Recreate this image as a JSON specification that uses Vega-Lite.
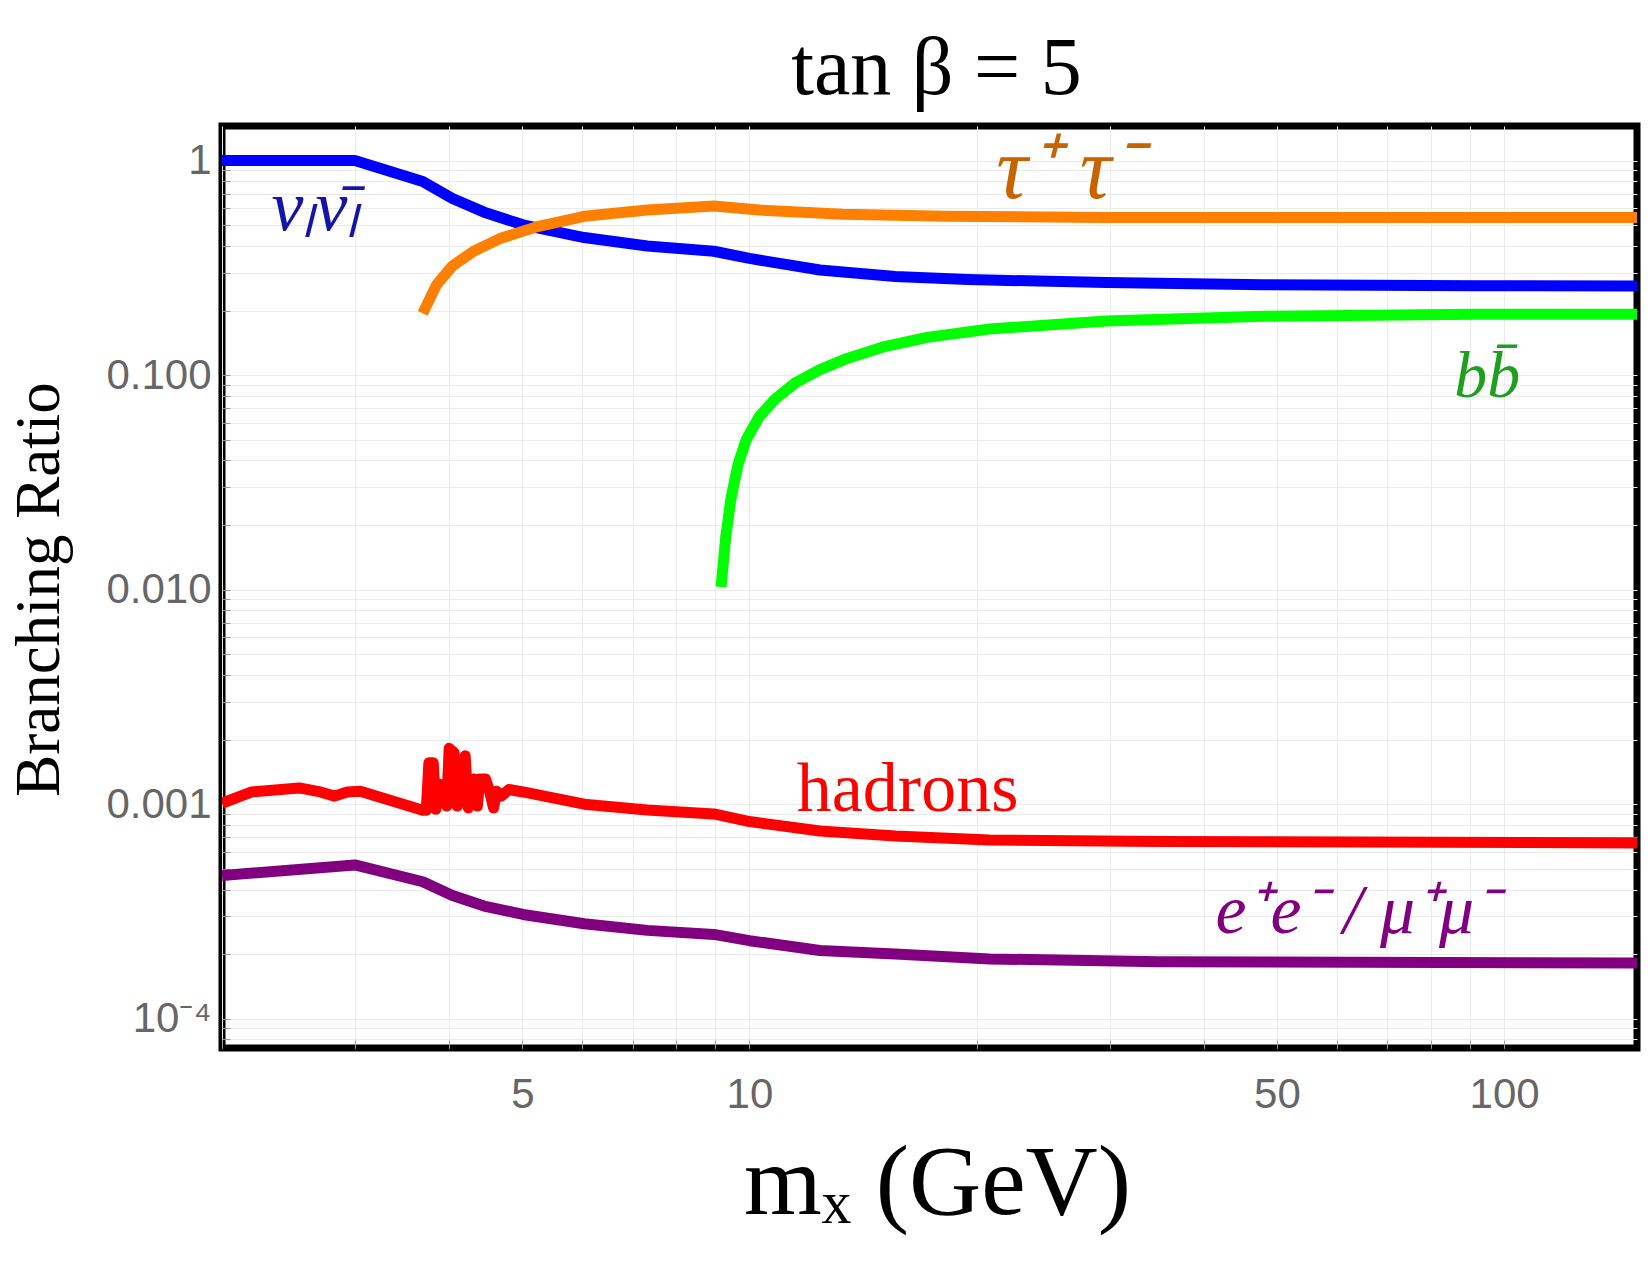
{
  "$schema": "https://vega.github.io/schema/vega-lite/v6.json",
  "width": 1415,
  "height": 922,
  "autosize": {"type": "none"},
  "padding": {"left": 222, "top": 126, "right": 13, "bottom": 227},
  "background": "white",
  "title": {"text": "tan β = 5", "font": "Liberation Serif", "fontSize": 82, "fontWeight": "normal", "color": "black", "baseline": "alphabetic", "frame": "group", "anchor": "middle", "offset": 28, "dx": 7, "dy": 78},
  "config": {"view": {"stroke": "black", "strokeWidth": 7}},
  "datasets": {
    "curves": [
      {"channel": "nu", "m": 2.0, "br": 1.0}, {"channel": "nu", "m": 3.0, "br": 1.0}, {"channel": "nu", "m": 3.69, "br": 0.80}, {"channel": "nu", "m": 4.04, "br": 0.666}, {"channel": "nu", "m": 4.45, "br": 0.575}, {"channel": "nu", "m": 5.01, "br": 0.502}, {"channel": "nu", "m": 6.04, "br": 0.438}, {"channel": "nu", "m": 7.32, "br": 0.40}, {"channel": "nu", "m": 8.97, "br": 0.378}, {"channel": "nu", "m": 10, "br": 0.35}, {"channel": "nu", "m": 12.4, "br": 0.309}, {"channel": "nu", "m": 15.6, "br": 0.288}, {"channel": "nu", "m": 19.5, "br": 0.279}, {"channel": "nu", "m": 29.7, "br": 0.27}, {"channel": "nu", "m": 48, "br": 0.264}, {"channel": "nu", "m": 91.5, "br": 0.261}, {"channel": "nu", "m": 150, "br": 0.26},
      {"channel": "tau", "m": 3.69, "br": 0.194}, {"channel": "tau", "m": 3.85, "br": 0.264}, {"channel": "tau", "m": 4.04, "br": 0.323}, {"channel": "tau", "m": 4.31, "br": 0.378}, {"channel": "tau", "m": 4.67, "br": 0.433}, {"channel": "tau", "m": 5.22, "br": 0.491}, {"channel": "tau", "m": 6.04, "br": 0.55}, {"channel": "tau", "m": 7.32, "br": 0.588}, {"channel": "tau", "m": 8.97, "br": 0.615}, {"channel": "tau", "m": 10.3, "br": 0.588}, {"channel": "tau", "m": 13.3, "br": 0.562}, {"channel": "tau", "m": 18.3, "br": 0.55}, {"channel": "tau", "m": 29.7, "br": 0.543}, {"channel": "tau", "m": 150, "br": 0.543},
      {"channel": "bb", "m": 9.17, "br": 0.0103}, {"channel": "bb", "m": 9.3, "br": 0.0175}, {"channel": "bb", "m": 9.45, "br": 0.0265}, {"channel": "bb", "m": 9.65, "br": 0.038}, {"channel": "bb", "m": 9.9, "br": 0.05}, {"channel": "bb", "m": 10.3, "br": 0.064}, {"channel": "bb", "m": 10.8, "br": 0.077}, {"channel": "bb", "m": 11.5, "br": 0.092}, {"channel": "bb", "m": 12.4, "br": 0.106}, {"channel": "bb", "m": 13.5, "br": 0.12}, {"channel": "bb", "m": 15, "br": 0.135}, {"channel": "bb", "m": 17.2, "br": 0.15}, {"channel": "bb", "m": 20.8, "br": 0.164}, {"channel": "bb", "m": 29.7, "br": 0.179}, {"channel": "bb", "m": 48, "br": 0.188}, {"channel": "bb", "m": 91.5, "br": 0.192}, {"channel": "bb", "m": 150, "br": 0.192},
      {"channel": "had", "m": 2.0, "br": 0.00101}, {"channel": "had", "m": 2.19, "br": 0.00114}, {"channel": "had", "m": 2.53, "br": 0.00119}, {"channel": "had", "m": 2.70, "br": 0.00114}, {"channel": "had", "m": 2.82, "br": 0.00109}, {"channel": "had", "m": 2.93, "br": 0.00114}, {"channel": "had", "m": 3.05, "br": 0.00115}, {"channel": "had", "m": 3.69, "br": 0.000936}, {"channel": "had", "m": 3.73, "br": 0.000936}, {"channel": "had", "m": 3.76, "br": 0.00156}, {"channel": "had", "m": 3.81, "br": 0.00156}, {"channel": "had", "m": 3.84, "br": 0.000946}, {"channel": "had", "m": 3.88, "br": 0.00124}, {"channel": "had", "m": 3.93, "br": 0.00122}, {"channel": "had", "m": 3.97, "br": 0.00098}, {"channel": "had", "m": 4.0, "br": 0.00182}, {"channel": "had", "m": 4.06, "br": 0.00174}, {"channel": "had", "m": 4.10, "br": 0.00098}, {"channel": "had", "m": 4.20, "br": 0.00168}, {"channel": "had", "m": 4.24, "br": 0.00096}, {"channel": "had", "m": 4.31, "br": 0.00131}, {"channel": "had", "m": 4.36, "br": 0.00098}, {"channel": "had", "m": 4.39, "br": 0.00131}, {"channel": "had", "m": 4.47, "br": 0.00131}, {"channel": "had", "m": 4.53, "br": 0.00113}, {"channel": "had", "m": 4.58, "br": 0.00096}, {"channel": "had", "m": 4.62, "br": 0.00115}, {"channel": "had", "m": 4.69, "br": 0.00109}, {"channel": "had", "m": 4.80, "br": 0.00117}, {"channel": "had", "m": 5.01, "br": 0.00114}, {"channel": "had", "m": 6.04, "br": 0.001}, {"channel": "had", "m": 7.32, "br": 0.00094}, {"channel": "had", "m": 8.97, "br": 0.0009}, {"channel": "had", "m": 10, "br": 0.00083}, {"channel": "had", "m": 12.4, "br": 0.00075}, {"channel": "had", "m": 15.6, "br": 0.00071}, {"channel": "had", "m": 20.8, "br": 0.00068}, {"channel": "had", "m": 34.8, "br": 0.00067}, {"channel": "had", "m": 150, "br": 0.00066},
      {"channel": "ee", "m": 2.0, "br": 0.000465}, {"channel": "ee", "m": 3.0, "br": 0.000521}, {"channel": "ee", "m": 3.69, "br": 0.000435}, {"channel": "ee", "m": 4.04, "br": 0.000375}, {"channel": "ee", "m": 4.45, "br": 0.000335}, {"channel": "ee", "m": 5.01, "br": 0.000306}, {"channel": "ee", "m": 6.04, "br": 0.000277}, {"channel": "ee", "m": 7.32, "br": 0.000258}, {"channel": "ee", "m": 8.97, "br": 0.000247}, {"channel": "ee", "m": 10, "br": 0.000231}, {"channel": "ee", "m": 12.4, "br": 0.000208}, {"channel": "ee", "m": 15.6, "br": 0.0002}, {"channel": "ee", "m": 20.8, "br": 0.00019}, {"channel": "ee", "m": 34.8, "br": 0.000184}, {"channel": "ee", "m": 150, "br": 0.000182}
    ],
    "labels": [
      {"key": "nu", "label": "νₗν̄ₗ", "m": 2.66, "br": 0.474},
      {"key": "tau", "label": "τ⁺ τ⁻", "m": 26.5, "br": 0.672},
      {"key": "bb", "label": "bb̄", "m": 95, "br": 0.0787},
      {"key": "had", "label": "hadrons", "m": 16.2, "br": 0.000927},
      {"key": "ee", "label": "e⁺e⁻ / μ⁺μ⁻", "m": 63.8, "br": 0.000252}
    ]
  },
  "encoding": {
    "x": {"field": "m", "type": "quantitative", "scale": {"type": "log", "domain": [2, 150], "nice": false},
      "axis": {"values": [2, 3, 4, 5, 6, 7, 8, 9, 10, 20, 30, 40, 50, 60, 70, 80, 90, 100],
        "labelExpr": "datum.value == 5 ? '5' : datum.value == 10 ? '10' : datum.value == 50 ? '50' : datum.value == 100 ? '100' : ''",
        "labelFont": "Liberation Sans", "labelFontSize": 42, "labelColor": "#666666", "labelPadding": 34, "labelBaseline": "top", "labelOverlap": false,
        "grid": true, "gridColor": "#ebebeb", "gridWidth": 1, "domain": false,
        "ticks": true, "tickSize": -8, "tickColor": "#9a9a9a", "tickWidth": 1,
        "title": "mₓ (GeV)", "titleFont": "Liberation Serif", "titleFontSize": 100, "titleFontWeight": "normal", "titleColor": "black",
        "titleX": 715, "titleY": 165, "titleBaseline": "alphabetic", "titleAlign": "center"}},
    "y": {"field": "br", "type": "quantitative", "scale": {"type": "log", "domain": [0.000073, 1.45], "nice": false},
      "axis": {"values": [0.00008, 0.00009, 0.0001, 0.0002, 0.0003, 0.0004, 0.0005, 0.0006, 0.0007, 0.0008, 0.0009, 0.001, 0.002, 0.003, 0.004, 0.005, 0.006, 0.007, 0.008, 0.009, 0.01, 0.02, 0.03, 0.04, 0.05, 0.06, 0.07, 0.08, 0.09, 0.1, 0.2, 0.3, 0.4, 0.5, 0.6, 0.7, 0.8, 0.9, 1],
        "labelExpr": "abs(log(datum.value)/LN10 - round(log(datum.value)/LN10)) < 0.001 ? (datum.value > 0.5 ? '1' : datum.value > 0.05 ? '0.100' : datum.value > 0.005 ? '0.010' : datum.value > 0.0005 ? '0.001' : '10⁻⁴') : ''",
        "labelFont": "Liberation Sans", "labelFontSize": 42, "labelColor": "#666666", "labelPadding": 19, "labelOverlap": false,
        "grid": true, "gridColor": "#ebebeb", "gridWidth": 1, "domain": false,
        "ticks": true, "tickSize": -8, "tickColor": "#9a9a9a", "tickWidth": 1,
        "title": "Branching Ratio", "titleFont": "Liberation Serif", "titleFontSize": 63, "titleFontWeight": "normal", "titleColor": "black",
        "titleAngle": -90, "titleX": -183, "titleY": 463, "titleAlign": "center", "titleBaseline": "middle"}}
  },
  "layer": [
    {"data": {"name": "curves"}, "mark": {"type": "line", "strokeWidth": 11, "clip": true, "strokeJoin": "round"},
      "encoding": {"color": {"field": "channel", "type": "nominal", "scale": {"domain": ["nu", "tau", "bb", "had", "ee"], "range": ["#0000ff", "#ff8000", "#00ff00", "#ff0000", "#800080"]}, "legend": null},
        "order": {"field": "m", "type": "quantitative"}}},
    {"data": {"name": "labels"}, "transform": [{"filter": "datum.key == 'nu'"}], "mark": {"type": "text", "font": "Liberation Serif", "fontStyle": "italic", "fontSize": 72, "color": "#1414a8", "align": "center", "baseline": "alphabetic"}, "encoding": {"text": {"field": "label"}}},
    {"data": {"name": "labels"}, "transform": [{"filter": "datum.key == 'tau'"}], "mark": {"type": "text", "font": "Liberation Serif", "fontStyle": "italic", "fontSize": 88, "color": "#c86400", "align": "center", "baseline": "alphabetic"}, "encoding": {"text": {"field": "label"}}},
    {"data": {"name": "labels"}, "transform": [{"filter": "datum.key == 'bb'"}], "mark": {"type": "text", "font": "Liberation Serif", "fontStyle": "italic", "fontSize": 66, "color": "#1ea01e", "align": "center", "baseline": "alphabetic"}, "encoding": {"text": {"field": "label"}}},
    {"data": {"name": "labels"}, "transform": [{"filter": "datum.key == 'had'"}], "mark": {"type": "text", "font": "Liberation Serif", "fontSize": 70, "color": "#ff0000", "align": "center", "baseline": "alphabetic"}, "encoding": {"text": {"field": "label"}}},
    {"data": {"name": "labels"}, "transform": [{"filter": "datum.key == 'ee'"}], "mark": {"type": "text", "font": "Liberation Serif", "fontStyle": "italic", "fontSize": 70, "color": "#800080", "align": "center", "baseline": "alphabetic"}, "encoding": {"text": {"field": "label"}}}
  ]
}
